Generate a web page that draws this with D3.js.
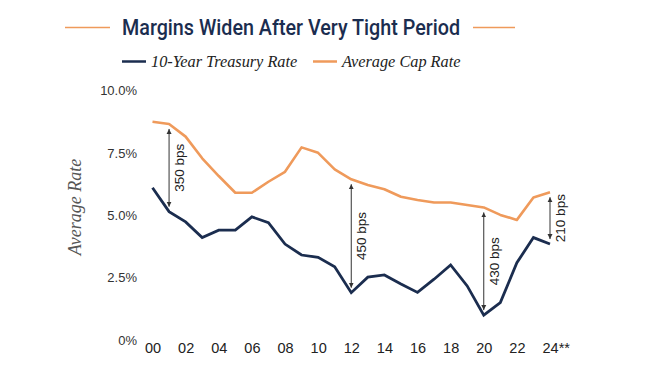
<!DOCTYPE html>
<html>
<head>
<meta charset="utf-8">
<script src="https://cdn.jsdelivr.net/npm/d3@7"></script>
<style>
  body { margin: 0; background: #fff; }
  svg { display: block; }
</style>
</head>
<body>
<div id="chart"></div>
<script>
// data
let years = [2000, 2001, 2002, 2003, 2004, 2005, 2006, 2007, 2008, 2009, 2010, 2011, 2012,
  2013, 2014, 2015, 2016, 2017, 2018, 2019, 2020, 2021, 2022, 2023, 2024];
let treasury = [6.11, 5.15, 4.74, 4.11, 4.41, 4.41, 4.94, 4.71, 3.85, 3.41, 3.32, 2.94, 1.90,
  2.52, 2.61, 2.25, 1.91, 2.44, 3.01, 2.17, 1.00, 1.50, 3.10, 4.11, 3.85];
let capRate = [8.76, 8.67, 8.16, 7.29, 6.58, 5.91, 5.91, 6.35, 6.75, 7.73, 7.51, 6.85, 6.45,
  6.22, 6.05, 5.75, 5.62, 5.52, 5.52, 5.42, 5.32, 5.02, 4.82, 5.72, 5.93];
let xTicks = [2000, 2002, 2004, 2006, 2008, 2010, 2012, 2014, 2016, 2018, 2020, 2022, 2024];
let yTicks = [0, 2.5, 5, 7.5, 10];
let spreads = [
  { year: 2001, label: '350 bps' },
  { year: 2012, label: '450 bps' },
  { year: 2020, label: '430 bps' },
  { year: 2024, label: '210 bps' }
];

let svgWidth = 660;
let svgHeight = 386;
let navy = '#1b2d4f';
let orange = '#ef9a5b';

let svg = d3.select('#chart').append('svg')
  .attr('width', svgWidth)
  .attr('height', svgHeight);

let defs = svg.append('defs');
defs.append('marker')
  .attr('id', 'head')
  .attr('viewBox', '0 0 10 10')
  .attr('refX', 10)
  .attr('refY', 5)
  .attr('markerWidth', 5)
  .attr('markerHeight', 6)
  .attr('markerUnits', 'userSpaceOnUse')
  .attr('orient', 'auto-start-reverse')
  .append('path')
  .attr('d', 'M0,0 L10,5 L0,10 Z')
  .attr('fill', '#333');

// scales
let x = d3.scaleLinear().domain([2000, 2024]).range([152.5, 550]);
let y = d3.scaleLinear().domain([0, 10]).range([340, 90.8]);

// title with rules on each side
svg.append('line').attr('x1', 65).attr('x2', 110).attr('y1', 27.5).attr('y2', 27.5)
  .attr('stroke', orange).attr('stroke-width', 1.5);
svg.append('line').attr('x1', 473).attr('x2', 515).attr('y1', 27.5).attr('y2', 27.5)
  .attr('stroke', orange).attr('stroke-width', 1.5);
svg.append('text')
  .attr('x', 122)
  .attr('y', 35)
  .attr('textLength', 338)
  .attr('lengthAdjust', 'spacingAndGlyphs')
  .style('font-family', 'Roboto, sans-serif')
  .style('font-weight', 500)
  .style('font-size', '22px')
  .attr('fill', navy)
  .text('Margins Widen After Very Tight Period');

// legend
let legend = [
  { name: '10-Year Treasury Rate', color: navy, x: 122 },
  { name: 'Average Cap Rate', color: orange, x: 313 }
];
legend.forEach(function (l) {
  svg.append('line')
    .attr('x1', l.x).attr('x2', l.x + 24)
    .attr('y1', 61.5).attr('y2', 61.5)
    .attr('stroke', l.color).attr('stroke-width', 2.5);
  svg.append('text')
    .attr('x', l.x + 29)
    .attr('y', 66.5)
    .style('font-family', '"Liberation Serif", serif')
    .style('font-style', 'italic')
    .style('font-size', '16.3px')
    .attr('fill', '#222')
    .text(l.name);
});

// y axis
let yAxis = svg.append('g')
  .attr('transform', 'translate(137, 0)')
  .call(d3.axisLeft(y).tickValues(yTicks).tickSize(0).tickPadding(0)
    .tickFormat(d => d === 0 ? '0%' : d3.format('.1f')(d) + '%'));
yAxis.select('.domain').remove();
yAxis.selectAll('text')
  .style('font-family', '"Liberation Sans", Arial, sans-serif')
  .style('font-size', '13px')
  .attr('fill', '#333');

svg.append('text')
  .attr('transform', 'translate(81, 207) rotate(-90)')
  .attr('text-anchor', 'middle')
  .style('font-family', '"Liberation Serif", serif')
  .style('font-style', 'italic')
  .style('font-size', '18px')
  .attr('fill', '#555')
  .text('Average Rate');

// x axis
let xAxis = svg.append('g')
  .attr('transform', 'translate(0, 343)')
  .call(d3.axisBottom(x).tickValues(xTicks).tickSize(0).tickPadding(0)
    .tickFormat(d => d3.format('02d')(d % 100) + (d === 2024 ? '**' : '')));
xAxis.select('.domain').remove();
xAxis.selectAll('text')
  .style('font-family', '"Liberation Sans", Arial, sans-serif')
  .style('font-size', '14.5px')
  .attr('fill', '#222');
xAxis.selectAll('.tick').filter(d => d === 2024).select('text')
  .attr('text-anchor', 'start')
  .attr('dx', -8);

// lines
let line = d3.line()
  .x((d, i) => x(years[i]))
  .y(d => y(d));

svg.append('path')
  .datum(capRate)
  .attr('d', line)
  .attr('fill', 'none')
  .attr('stroke', orange)
  .attr('stroke-width', 2.6)
  .attr('stroke-linejoin', 'round');

svg.append('path')
  .datum(treasury)
  .attr('d', line)
  .attr('fill', 'none')
  .attr('stroke', navy)
  .attr('stroke-width', 2.8)
  .attr('stroke-linejoin', 'miter');

// spread annotations
spreads.forEach(function (s) {
  let i = years.indexOf(s.year);
  let xs = x(s.year);
  let top = y(capRate[i]) + 5;
  let bottom = y(treasury[i]) - 5;
  svg.append('line')
    .attr('x1', xs).attr('x2', xs)
    .attr('y1', top).attr('y2', bottom)
    .attr('stroke', '#333')
    .attr('stroke-width', 1)
    .attr('marker-start', 'url(#head)')
    .attr('marker-end', 'url(#head)');
  svg.append('text')
    .attr('transform', `translate(${xs + 15}, ${(top + bottom) / 2}) rotate(-90)`)
    .attr('text-anchor', 'middle')
    .style('font-family', '"Liberation Sans", Arial, sans-serif')
    .style('font-size', '13.5px')
    .attr('fill', '#222')
    .text(s.label);
});
</script>
</body>
</html>
